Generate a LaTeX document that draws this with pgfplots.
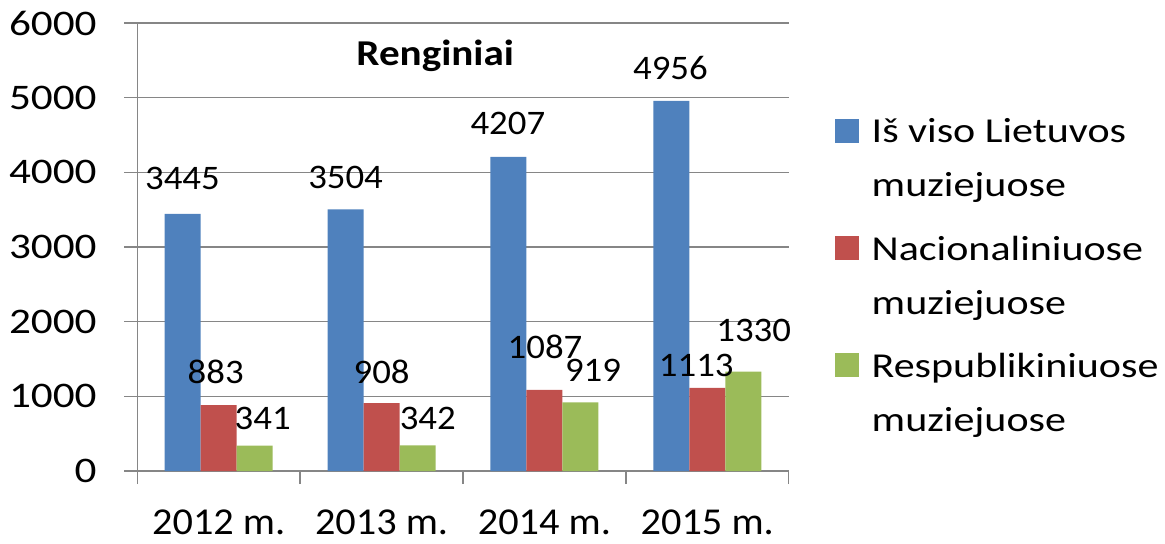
\documentclass[border=0pt]{standalone}
\usepackage{pgfplots}
\usepackage{pgfplotstable}
\pgfplotsset{compat=1.18}
\usepackage{fontspec}
\setmainfont{Carlito}
\newfontfamily\ytfont[FakeStretch=1.2]{Carlito}
\newfontfamily\lgfont[FakeStretch=1.2]{Carlito}
\newfontfamily\blfont[FakeStretch=1.07]{Carlito}
\newfontfamily\xtfont[FakeStretch=1.06]{Carlito}
\newfontfamily\ttlfont[FakeStretch=1.13]{Carlito}
\definecolor{cblue}{HTML}{4F81BD}
\definecolor{cred}{HTML}{C0504D}
\definecolor{cgreen}{HTML}{9BBB59}
\definecolor{cgrid}{HTML}{868686}

\pgfplotstableread{
x y dx dy
0 3445 -0.15 11.9
1 3504 0 10.5
2 4207 -0.3 11
3 4956 -0.4 10.5
}\tblue
\pgfplotstableread{
x y dx dy
0 883 -1.5 10.9
1 908 0 10
2 1087 0.3 15.7
3 1113 -5.5 5.6
}\tred
\pgfplotstableread{
x y dx dy
0 341 4 8.2
1 342 5.1 8.2
2 919 6.3 10.3
3 1330 5.2 15
}\tgreen

\begin{document}
\begin{tikzpicture}
\begin{axis}[
  scale only axis, width=325.7pt, height=224pt,
  at={(0,0)}, anchor=south west,
  xmin=-0.5, xmax=3.5, ymin=0, ymax=6000,
  ybar=0pt, bar width=18pt,
  clip=false,
  axis lines*=left,
  axis line style={-, draw=cgrid, line width=0.7pt},
  tick align=outside,
  major tick length=6.5pt,
  tick style={cgrid, line width=0.7pt},
  ymajorgrids, grid style={cgrid, line width=0.7pt},
  xtick={-0.5,0.5,1.5,2.5,3.5}, xticklabels={},
  extra x ticks={0,1,2,3},
  extra x tick labels={2012 m.,2013 m.,2014 m.,2015 m.},
  extra x tick style={major tick length=0pt},
  xticklabel style={font=\xtfont\fontsize{19}{19}\selectfont, anchor=base, inner sep=0pt, yshift=-31.8pt},
  ytick={0,1000,2000,3000,4000,5000,6000},
  yticklabels={0,1000,2000,3000,4000,5000,6000},
  yticklabel style={font=\ytfont\fontsize{18}{18}\selectfont, anchor=east, inner sep=0pt, xshift=-13.65pt},
  title={\ttlfont\bfseries Renginiai},
  title style={at={(axis description cs:0.4573,0.8788)}, anchor=base, inner sep=0pt, font=\fontsize{18.2}{18.2}\selectfont},
  legend style={draw=none, fill=none, at={(axis description cs:1.0711,0.8172)}, anchor=north west,
    inner sep=0pt, outer sep=0pt, row sep=38.25pt, column sep=6.35pt,
    font=\lgfont\fontsize{17.5}{27}\selectfont, cells={anchor=base west}, nodes={inner sep=0pt}},
  legend image code/.code={\fill[#1] (0pt,0pt) rectangle (12pt,12pt);},
  point meta=explicit symbolic,
  nodes near coords,
]
\addplot[fill=cblue, draw=none,
  visualization depends on={\thisrow{dx}\as\dx},
  visualization depends on={\thisrow{dy}\as\dy},
  every node near coord/.append style={anchor=base, inner sep=0pt, xshift=\dx pt, yshift=\dy pt, text=black, font=\blfont\fontsize{17.2}{17.2}\selectfont}]
  table[x=x, y=y, meta=y]{\tblue};
\addplot[fill=cred, draw=none,
  visualization depends on={\thisrow{dx}\as\dx},
  visualization depends on={\thisrow{dy}\as\dy},
  every node near coord/.append style={anchor=base, inner sep=0pt, xshift=\dx pt, yshift=\dy pt, text=black, font=\blfont\fontsize{17.2}{17.2}\selectfont}]
  table[x=x, y=y, meta=y]{\tred};
\addplot[fill=cgreen, draw=none,
  visualization depends on={\thisrow{dx}\as\dx},
  visualization depends on={\thisrow{dy}\as\dy},
  every node near coord/.append style={anchor=base, inner sep=0pt, xshift=\dx pt, yshift=\dy pt, text=black, font=\blfont\fontsize{17.2}{17.2}\selectfont}]
  table[x=x, y=y, meta=y]{\tgreen};
\legend{{\begin{tabular}[t]{@{}l@{}}Iš viso Lietuvos\\muziejuose\end{tabular}},
        {\begin{tabular}[t]{@{}l@{}}Nacionaliniuose\\muziejuose\end{tabular}},
        {\begin{tabular}[t]{@{}l@{}}Respublikiniuose\\muziejuose\end{tabular}}}
\end{axis}
\pgfresetboundingbox
\path (-68.65pt,-36pt) rectangle (513.85pt,235.5pt);
\end{tikzpicture}
\end{document}
